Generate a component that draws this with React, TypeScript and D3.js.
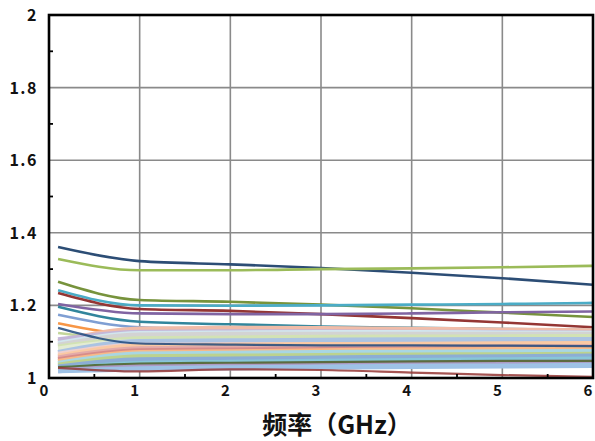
import React from "react";
import * as d3 from "d3";

// frequency points (GHz)
const freqs = [0.1, 1, 2, 3, 4, 5, 6];

// lines that stand out above the bulk
const mainSeries = [
  [1.361, 1.322, 1.313, 1.303, 1.29, 1.275, 1.257],
  [1.328, 1.297, 1.297, 1.3, 1.302, 1.305, 1.309],
  [1.265, 1.215, 1.21, 1.202, 1.192, 1.18, 1.168],
  [1.242, 1.2, 1.199, 1.2, 1.202, 1.204, 1.207],
  [1.234, 1.19, 1.185, 1.176, 1.165, 1.153, 1.14],
  [1.204, 1.178, 1.176, 1.176, 1.178, 1.181, 1.183],
  [1.196, 1.155, 1.148, 1.142, 1.138, 1.135, 1.132],
  [1.174, 1.14, 1.135, 1.132, 1.13, 1.128, 1.127],
  [1.151, 1.12, 1.119, 1.119, 1.118, 1.118, 1.118],
  [1.124, 1.105, 1.106, 1.107, 1.108, 1.108, 1.109],
  [1.072, 1.06, 1.062, 1.064, 1.066, 1.068, 1.07],
  [1.068, 1.055, 1.057, 1.058, 1.06, 1.061, 1.062],
];
const mainColors = [
  "#2C4D75", "#9BBB59", "#77933C", "#4BACC6", "#943634", "#8064A2",
  "#31859C", "#7F9FD3", "#F79646", "#C3D69B", "#C0504D", "#8064A2",
];

// pale, thick lines forming the bulk
const bulkSeries = [
  [1.1, 1.135, 1.137, 1.136, 1.134, 1.132, 1.13],
  [1.105, 1.126, 1.127, 1.127, 1.126, 1.125, 1.124],
  [1.095, 1.122, 1.124, 1.125, 1.125, 1.124, 1.123],
  [1.09, 1.118, 1.12, 1.12, 1.12, 1.12, 1.12],
  [1.085, 1.108, 1.11, 1.112, 1.113, 1.113, 1.114],
  [1.08, 1.1, 1.1, 1.1, 1.1, 1.1, 1.1],
  [1.07, 1.1, 1.102, 1.104, 1.105, 1.106, 1.106],
  [1.065, 1.09, 1.091, 1.092, 1.092, 1.092, 1.092],
  [1.06, 1.088, 1.09, 1.092, 1.093, 1.094, 1.095],
  [1.055, 1.08, 1.082, 1.083, 1.084, 1.085, 1.086],
  [1.05, 1.075, 1.077, 1.078, 1.079, 1.08, 1.08],
  [1.045, 1.07, 1.072, 1.075, 1.077, 1.078, 1.08],
  [1.04, 1.066, 1.068, 1.07, 1.071, 1.072, 1.073],
  [1.035, 1.058, 1.06, 1.062, 1.063, 1.064, 1.065],
  [1.03, 1.05, 1.052, 1.055, 1.057, 1.058, 1.06],
  [1.025, 1.04, 1.043, 1.046, 1.048, 1.05, 1.052],
  [1.02, 1.032, 1.035, 1.038, 1.04, 1.042, 1.044],
  [1.02, 1.025, 1.028, 1.03, 1.032, 1.033, 1.035],
];
const bulkColors = [
  "#F0BCA8", "#C4B7D8", "#D2E6EE", "#D3D3D3", "#D2E2B4", "#E3ECD2",
  "#ABC3E2", "#EFCFCD", "#FAC9A3", "#E3AAA8", "#D88C8A", "#F8B988",
  "#A8D6E3", "#BCD28E", "#8CADD5", "#88C6D8", "#AD9AC4", "#9EC2E6",
];

// thin lines drawn over the bulk
const topSeries = [
  [1.138, 1.095, 1.092, 1.09, 1.09, 1.089, 1.088],
  [1.03, 1.04, 1.042, 1.044, 1.046, 1.047, 1.047],
  [1.028, 1.018, 1.024, 1.022, 1.015, 1.008, 1.003],
];
const topColors = ["#1F497D", "#4F6228", "#953735"];

const yTicks = [1, 1.2, 1.4, 1.6, 1.8, 2];
const yMinor = [1.1, 1.3, 1.5, 1.7, 1.9];
const xTicks = [0, 1, 2, 3, 4, 5, 6];
const xMinor = [0.5, 1.5, 2.5, 3.5, 4.5, 5.5];
const xTitle = "频率（GHz）";

const W = 595;
const H = 441;
const left = 49;
const right = 593;
const top = 15;
const bottom = 378;

export default function App() {
  const x = d3.scaleLinear().domain([0, 6]).range([left, right]);
  const y = d3.scaleLinear().domain([1, 2]).range([bottom, top]);
  const line = d3
    .line<number>()
    .x((_, i) => x(freqs[i]))
    .y((d) => y(d))
    .curve(d3.curveMonotoneX);

  const font = "'Noto Sans CJK SC', 'Noto Sans', sans-serif";

  return (
    <svg
      width={W}
      height={H}
      style={{ position: "absolute", left: 0, top: 0, background: "#fff" }}
    >
      {/* gridlines */}
      {xTicks.slice(1, -1).map((t) => (
        <line key={"gx" + t} x1={x(t)} x2={x(t)} y1={top} y2={bottom} stroke="#8a8a8a" strokeWidth={1.6} />
      ))}
      {yTicks.slice(1, -1).map((t) => (
        <line key={"gy" + t} x1={left} x2={right} y1={y(t)} y2={y(t)} stroke="#8a8a8a" strokeWidth={1.6} />
      ))}

      {mainSeries.map((s, i) => (
        <path key={"m" + i} d={line(s) || ""} fill="none" stroke={mainColors[i]} strokeWidth={2.6} />
      ))}
      {bulkSeries.map((s, i) => (
        <path key={"b" + i} d={line(s) || ""} fill="none" stroke={bulkColors[i]} strokeWidth={5.2} />
      ))}
      {topSeries.map((s, i) => (
        <path key={"t" + i} d={line(s) || ""} fill="none" stroke={topColors[i]} strokeWidth={2.2} opacity={0.85} />
      ))}

      {/* minor ticks */}
      {yMinor.map((t) => (
        <line key={"my" + t} x1={left} x2={left + 4} y1={y(t)} y2={y(t)} stroke="#000" strokeWidth={1.8} />
      ))}
      {xMinor.map((t) => (
        <line key={"mx" + t} x1={x(t)} x2={x(t)} y1={bottom} y2={bottom - 4} stroke="#000" strokeWidth={1.8} />
      ))}

      {/* frame */}
      <rect x={left} y={top} width={right - left} height={bottom - top} fill="none" stroke="#000" strokeWidth={2.6} />

      {/* tick labels */}
      {yTicks.map((t) => (
        <text
          key={"ly" + t}
          x={left - 11}
          y={y(t) + 6}
          textAnchor="end"
          fontFamily={font}
          fontWeight={700}
          fontSize={16}
          letterSpacing={1.5}
          fill="#111"
        >
          {d3.format("~g")(t)}
        </text>
      ))}
      {xTicks.map((t) => (
        <text
          key={"lx" + t}
          x={x(t) - 5}
          y={396}
          textAnchor="middle"
          fontFamily={font}
          fontWeight={700}
          fontSize={15}
          fill="#111"
        >
          {t}
        </text>
      ))}

      <text x={337} y={434} textAnchor="middle" fontFamily={font} fontWeight={700} fontSize={25} fill="#111">
        {xTitle}
      </text>
    </svg>
  );
}
